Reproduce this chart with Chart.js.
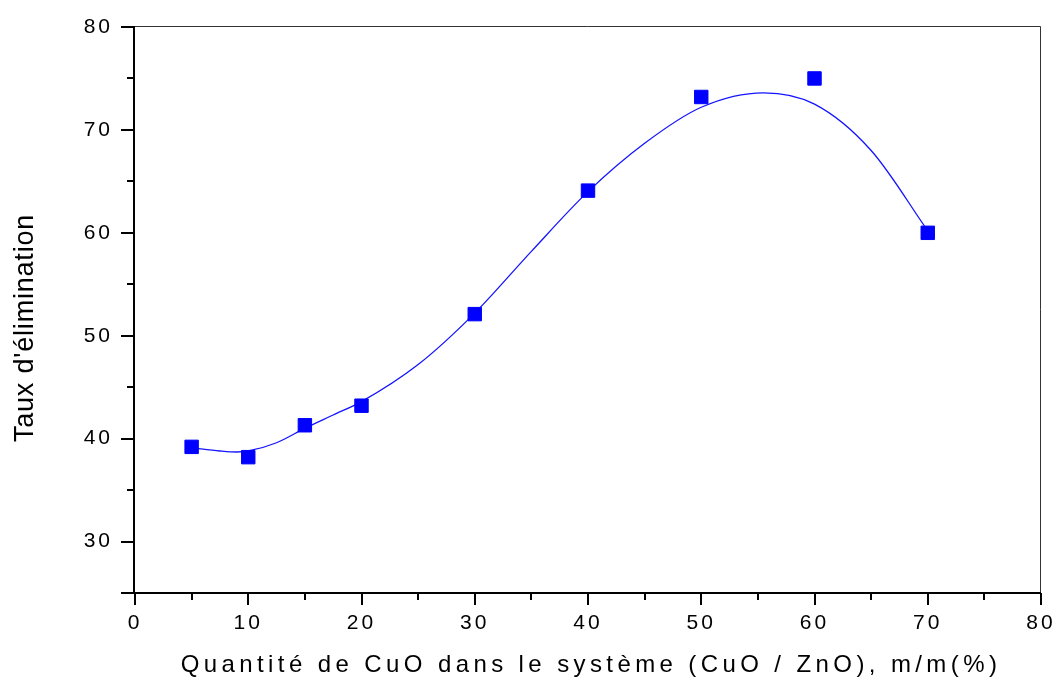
<!DOCTYPE html>
<html>
<head>
<meta charset="utf-8">
<title>Taux d'élimination en fonction de la quantité de CuO</title>
<script src="https://cdn.jsdelivr.net/npm/chart.js@4.4.1/dist/chart.umd.min.js"></script>
<style>
  html, body { margin: 0; padding: 0; background: #ffffff; }
  canvas { display: block; }
</style>
</head>
<body>
<canvas id="chart" width="1053" height="678"></canvas>
<script>
// Measured points: CuO content (% m/m) and removal rate
const cuoContent  = [5, 10, 15, 20, 30, 40, 50, 60, 70];
const removalRate = [39.2, 38.2, 41.3, 43.2, 52.1, 64.1, 73.2, 75.0, 60.0];

// Smoothed fit curve through the measurements
const fitX = [5, 7.5, 9, 10, 12.5, 15, 17.5, 20, 25, 30, 35, 40, 45, 50, 55.5, 60, 65, 70];
const fitY = [39.1, 38.8, 38.7, 38.8, 39.6, 41.0, 42.3, 43.6, 47.2, 52.2, 58.2, 64.0, 68.7, 72.2, 73.6, 72.5, 68.0, 60.2];

// Axis tick labels
const xTickLabels = [0, 10, 20, 30, 40, 50, 60, 70, 80];
const yTickLabels = [30, 40, 50, 60, 70, 80];

const xTitle = "Quantité de CuO dans le système (CuO / ZnO), m/m(%)";
const yTitle = "Taux d'élimination";

const FONT = "'Liberation Sans', Arial, Helvetica, sans-serif";

// Spaced-out tick digits, applied on the shared context
const letterSpacingPlugin = {
  id: 'letterSpacing',
  beforeUpdate(chart) { chart.ctx.letterSpacing = '3px'; },
  beforeDraw(chart) { chart.ctx.letterSpacing = '3px'; }
};

// Axis frame, outward major/minor tick marks and axis titles
const framePlugin = {
  id: 'frame',
  afterDraw(chart) {
    const { ctx, chartArea: a, scales } = chart;
    const xs = scales.x, ys = scales.y;
    ctx.save();
    ctx.letterSpacing = '0px';

    // thin top and right edges
    ctx.strokeStyle = '#333333';
    ctx.lineWidth = 1;
    ctx.beginPath();
    ctx.moveTo(a.left, a.top - 0.5);
    ctx.lineTo(a.right - 0.5, a.top - 0.5);
    ctx.lineTo(a.right - 0.5, a.bottom);
    ctx.stroke();

    // heavy left and bottom axes
    ctx.strokeStyle = '#000000';
    ctx.lineWidth = 2;
    ctx.beginPath();
    ctx.moveTo(a.left - 1, a.top - 1);
    ctx.lineTo(a.left - 1, a.bottom);
    ctx.lineTo(a.right, a.bottom);
    ctx.stroke();

    // x ticks every 5, long on multiples of 10
    ctx.lineWidth = 2;
    ctx.beginPath();
    for (let v = xs.min; v <= xs.max; v += 5) {
      const px = Math.round(xs.getPixelForValue(v));
      const len = (v % 10 === 0) ? 12 : 7;
      ctx.moveTo(px, a.bottom);
      ctx.lineTo(px, a.bottom + len);
    }
    // y ticks every 5, long on multiples of 10 and at the corner
    for (let v = ys.min; v <= ys.max; v += 5) {
      const py = Math.round(ys.getPixelForValue(v));
      const len = (v % 10 === 0 || v === ys.min) ? 13 : 7;
      ctx.moveTo(a.left - 1, py);
      ctx.lineTo(a.left - 1 - len, py);
    }
    ctx.stroke();

    // axis titles
    ctx.fillStyle = '#000000';
    ctx.textBaseline = 'alphabetic';
    ctx.textAlign = 'center';
    ctx.font = '24px ' + FONT;
    ctx.letterSpacing = '4.4px';
    ctx.fillText(xTitle, (a.left + a.right) / 2 + 3, 672);

    ctx.font = '27px ' + FONT;
    ctx.letterSpacing = '0.8px';
    ctx.translate(33, 328);
    ctx.rotate(-Math.PI / 2);
    ctx.fillText(yTitle, 0, 0);
    ctx.restore();
  }
};

new Chart(document.getElementById('chart'), {
  data: {
    datasets: [
      {
        type: 'scatter',
        label: 'Mesures',
        data: cuoContent.map((x, i) => ({ x, y: removalRate[i] })),
        pointStyle: 'rect',
        pointRadius: 9.5,
        pointHoverRadius: 9.5,
        backgroundColor: '#0000ff',
        borderColor: '#0000ff',
        borderWidth: 1,
        order: 0
      },
      {
        type: 'line',
        label: 'Ajustement',
        data: fitX.map((x, i) => ({ x, y: fitY[i] })),
        borderColor: '#1414ff',
        borderWidth: 1.3,
        pointRadius: 0,
        fill: false,
        cubicInterpolationMode: 'monotone',
        order: 1
      }
    ]
  },
  options: {
    responsive: false,
    animation: false,
    events: [],
    layout: { padding: { top: 27, right: 12, left: 0, bottom: 0 } },
    plugins: {
      legend: { display: false },
      tooltip: { enabled: false },
      title: { display: false }
    },
    scales: {
      x: {
        type: 'linear',
        min: 0,
        max: 80,
        afterBuildTicks(scale) { scale.ticks = xTickLabels.map(v => ({ value: v })); },
        afterFit(scale) {
          scale.height = 85;
          scale.paddingLeft = 0;
          scale.paddingRight = 0;
        },
        grid: { display: false, drawTicks: false },
        border: { display: false },
        ticks: {
          padding: 18,
          color: '#000000',
          maxRotation: 0,
          autoSkip: false,
          font: { family: FONT, size: 21 }
        }
      },
      y: {
        type: 'linear',
        min: 25,
        max: 80,
        afterBuildTicks(scale) { scale.ticks = yTickLabels.map(v => ({ value: v })); },
        afterFit(scale) {
          scale.width = 135;
          scale.paddingTop = 0;
          scale.paddingBottom = 0;
        },
        grid: { display: false, drawTicks: false },
        border: { display: false },
        ticks: {
          padding: 22,
          color: '#000000',
          autoSkip: false,
          font: { family: FONT, size: 21 }
        }
      }
    }
  },
  plugins: [letterSpacingPlugin, framePlugin]
});
</script>
</body>
</html>
